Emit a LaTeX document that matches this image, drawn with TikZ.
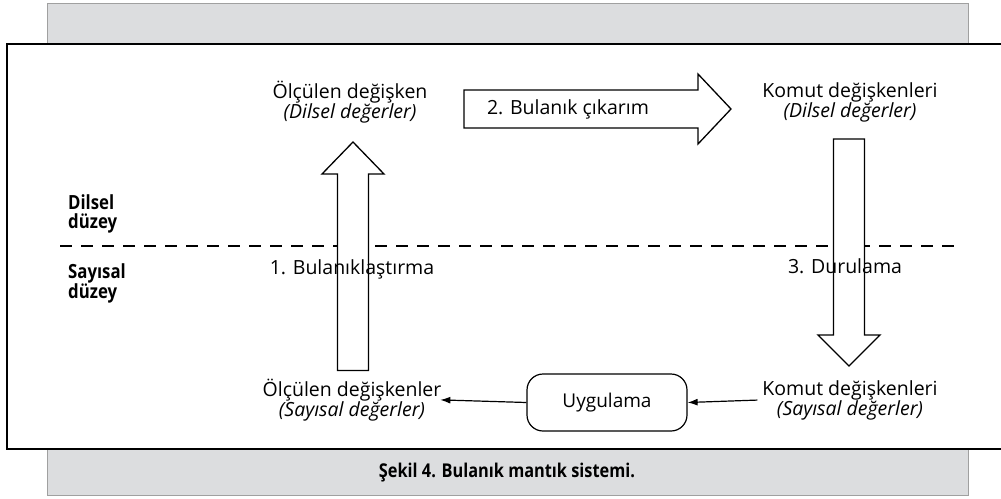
\documentclass[tikz,border=0pt]{standalone}
\usepackage{fontspec}
\setmainfont{Open Sans}
\newfontfamily\narrowbold[FakeStretch=0.86]{Open Sans}
\usetikzlibrary{arrows.meta}
\definecolor{panelgray}{HTML}{DCDDDF}
\definecolor{paneledge}{HTML}{A0A0A0}
\tikzset{
  lbl/.style={align=center, inner sep=3pt, outer sep=0pt, font=\fontsize{19.5}{20}\selectfont},
  lvl/.style={align=left, anchor=north west, inner sep=0pt, font=\narrowbold\bfseries\fontsize{19.5}{19}\selectfont},
  blockarrow/.style={draw=black, line width=1.3pt, fill=white, line join=miter},
  procbox/.style={draw=black, line width=1.2pt, rounded corners=16pt, minimum width=160pt, minimum height=57pt, inner sep=0pt, font=\fontsize{19}{20}\selectfont},
  conn/.style={line width=1.2pt, -{Latex[length=10pt,width=7pt]}},
  levelline/.style={line width=1.1pt, dash pattern=on 12pt off 9pt}
}
\begin{document}
\begin{tikzpicture}[x=1pt,y=-1pt]
\useasboundingbox (0,0) rectangle (1001,498);
% grey backing panel and white figure area
\draw[fill=panelgray, draw=paneledge, line width=1pt] (47,3) rectangle (968,495);
\draw[fill=white, draw=black, line width=1.5pt] (7,44) rectangle (1010,449);

% level separator
\draw[levelline] (60,246) -- (960,246);
\node[lvl] (dil) at (68,194) {Dilsel\\düzey};
\node[lvl] (say) at (68,263) {Sayısal\\düzey};

% variables
\node[lbl] (mdil) at (350,102) {Ölçülen değişken\\\textit{(Dilsel değerler)}};
\node[lbl] (kdil) at (850,102) {Komut değişkenleri\\\textit{(Dilsel değerler)}};
\node[lbl] (msay) at (352,400) {Ölçülen değişkenler\\\textit{(Sayısal değerler)}};
\node[lbl] (ksay) at (850,400) {Komut değişkenleri\\\textit{(Sayısal değerler)}};
\node[procbox] (uyg) at (607,402.5) {Uygulama};

% 1. fuzzification (upward block arrow)
\draw[blockarrow] (337.5,370.5) -- (337.5,174) -- (322,174) -- (353,142) -- (384,174) -- (368.5,174) -- (368.5,370.5) -- cycle;
\node[lbl] (s1) at (352,269) {1. Bulanıklaştırma};

% 2. inference (rightward block arrow)
\draw[blockarrow] (464,90) -- (698,90) -- (698,74) -- (731,109) -- (698,144) -- (698,128) -- (464,128) -- cycle;
\node[lbl, anchor=west] (s2) at (484,109) {2. Bulanık çıkarım};

% 3. defuzzification (downward block arrow)
\draw[blockarrow] (833.5,139) -- (864.5,139) -- (864.5,335) -- (880,335) -- (849,366) -- (818,335) -- (833.5,335) -- cycle;
\node[lbl] (s3) at (845,266) {3. Durulama};

% plant loop
\draw[conn, shorten <=2pt] (ksay.west) -- (uyg.east);
\draw[conn, shorten >=-4pt] (uyg.west) -- (msay.east);

% caption
\node[font=\narrowbold\bfseries\fontsize{19}{19}\selectfont, inner sep=0pt] (cap) at (507,473) {Şekil 4. Bulanık mantık sistemi.};
\end{tikzpicture}
\end{document}
